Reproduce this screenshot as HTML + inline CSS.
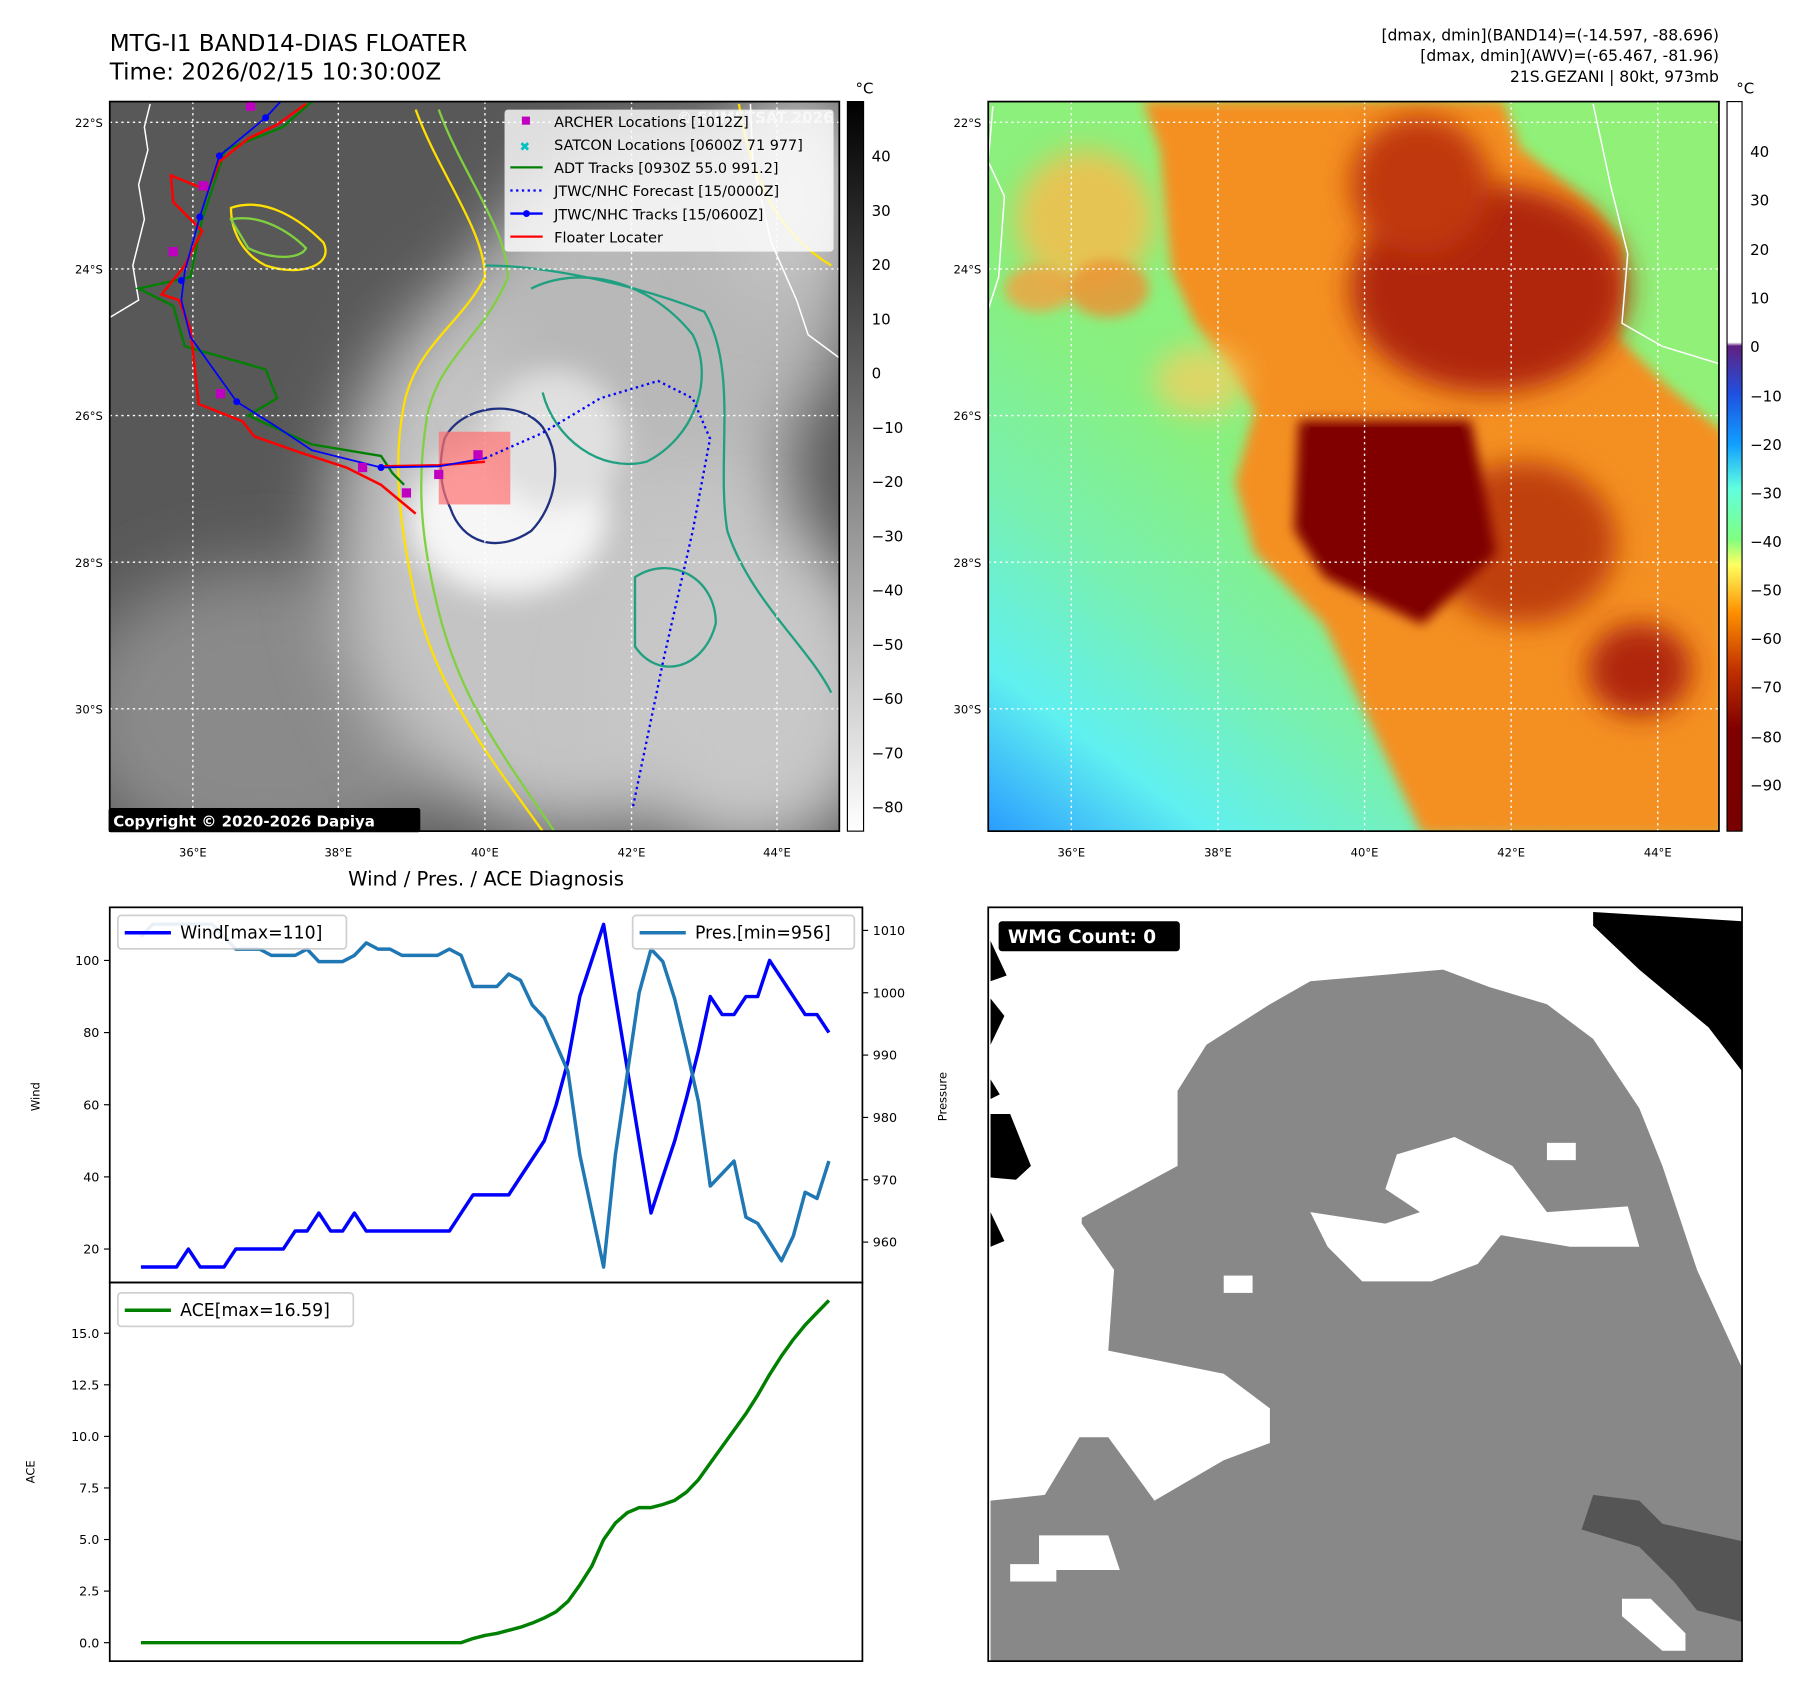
<!DOCTYPE html>
<html><head><meta charset="utf-8"><style>
html,body{margin:0;padding:0;background:#fff}
svg{display:block;font-family:"DejaVu Sans","Liberation Sans",sans-serif}
</style></head><body>
<svg id="root" width="1801" height="1690" viewBox="0 0 1560 1464" xmlns="http://www.w3.org/2000/svg">
<defs>
<filter id="b40" x="-50%" y="-50%" width="200%" height="200%"><feGaussianBlur stdDeviation="30"/></filter>
<filter id="b15" x="-50%" y="-50%" width="200%" height="200%"><feGaussianBlur stdDeviation="12"/></filter>
<filter id="b6" x="-50%" y="-50%" width="200%" height="200%"><feGaussianBlur stdDeviation="5"/></filter>
<clipPath id="cl"><rect x="95" y="88" width="632" height="632"/></clipPath>
<clipPath id="cr"><rect x="856" y="88" width="633" height="632"/></clipPath>
<linearGradient id="gcb" x1="0" y1="0" x2="0" y2="1"><stop offset="0" stop-color="#000"/><stop offset="1" stop-color="#fff"/></linearGradient>
<linearGradient id="ccb" x1="0" y1="0" x2="0" y2="1">
<stop offset="0" stop-color="#ffffff"/><stop offset="0.33" stop-color="#ffffff"/><stop offset="0.335" stop-color="#602080"/>
<stop offset="0.40" stop-color="#2050e0"/><stop offset="0.47" stop-color="#10a0ff"/><stop offset="0.53" stop-color="#60ffe0"/>
<stop offset="0.60" stop-color="#80ff80"/><stop offset="0.635" stop-color="#ffff60"/><stop offset="0.70" stop-color="#ff9000"/>
<stop offset="0.78" stop-color="#c03000"/><stop offset="0.86" stop-color="#800000"/><stop offset="1" stop-color="#780000"/></linearGradient>
<linearGradient id="rbg" x1="0" y1="1" x2="0.6" y2="0.2">
<stop offset="0" stop-color="#2a9cff"/><stop offset="0.18" stop-color="#60f0f0"/><stop offset="0.38" stop-color="#78f0b0"/><stop offset="0.6" stop-color="#88f080"/><stop offset="1" stop-color="#90f078"/></linearGradient>
</defs>

<text x="95" y="44" font-size="20">MTG-I1 BAND14-DIAS FLOATER</text>
<text x="95" y="69" font-size="20">Time: 2026/02/15 10:30:00Z</text>
<g font-size="13.5" text-anchor="end">
<text x="1489" y="35">[dmax, dmin](BAND14)=(-14.597, -88.696)</text>
<text x="1489" y="53">[dmax, dmin](AWV)=(-65.467, -81.96)</text>
<text x="1489" y="71">21S.GEZANI | 80kt, 973mb</text>
</g>

<!-- LEFT MAP -->
<g clip-path="url(#cl)">
<rect x="95" y="88" width="632" height="632" fill="#585858"/>
<ellipse cx="230" cy="620" rx="170" ry="130" fill="#8a8a8a" filter="url(#b40)"/>
<ellipse cx="490" cy="470" rx="200" ry="250" fill="#c4c4c4" filter="url(#b40)"/>
<ellipse cx="580" cy="260" rx="160" ry="140" fill="#b8b8b8" filter="url(#b40)"/>
<ellipse cx="650" cy="600" rx="120" ry="140" fill="#c8c8c8" filter="url(#b40)"/>
<ellipse cx="690" cy="160" rx="60" ry="90" fill="#c8c8c8" filter="url(#b40)"/>
<ellipse cx="440" cy="450" rx="85" ry="65" fill="#f6f6f6" filter="url(#b15)"/>
<ellipse cx="480" cy="380" rx="60" ry="60" fill="#e0e0e0" filter="url(#b15)"/>
<g fill="none" stroke-width="2">
<path d="M360,95 C380,150 420,200 420,240 C400,280 360,300 350,350 C340,400 345,450 360,520 C380,600 420,650 470,720" stroke="#ffe000"/>
<path d="M380,95 C400,150 440,200 440,240 C420,290 380,310 370,360 C360,420 365,470 380,530 C400,610 440,660 480,720" stroke="#80d040"/>
<path d="M420,230 C480,230 560,250 610,270 C640,320 620,400 630,460 C650,520 700,560 720,600" stroke="#20a080"/>
<path d="M385,380 C400,350 450,345 470,370 C490,400 480,440 460,460 C430,480 400,470 390,440 C380,420 380,400 385,380Z" stroke="#203080"/>
<path d="M200,180 C230,170 260,190 280,210 C290,230 260,240 230,230 C210,220 200,200 200,180Z" stroke="#ffe000"/>
<path d="M200,190 C225,185 250,200 265,215 C260,225 235,225 215,215Z" stroke="#80d040"/>
<path d="M460,250 C500,230 560,240 600,290 C620,330 600,380 560,400 C520,410 480,380 470,340" stroke="#20a080"/>
<path d="M640,90 C650,150 670,200 720,230" stroke="#ffe000"/>
<path d="M550,500 C580,480 620,500 620,540 C610,580 570,590 550,560Z" stroke="#20a080"/>
</g>
<g fill="none" stroke="#fff" stroke-width="1.3">
<path d="M130,90 L125,110 L128,130 L120,160 L125,190 L115,230 L120,260 L95,275"/>
<path d="M650,90 L652,140 L668,210 L690,260 L700,290 L727,310"/>
</g>
<g stroke="#fff" stroke-width="1.2" stroke-dasharray="2,3">
<line x1="95" y1="106" x2="727" y2="106"/><line x1="95" y1="233" x2="727" y2="233"/><line x1="95" y1="360" x2="727" y2="360"/><line x1="95" y1="487" x2="727" y2="487"/><line x1="95" y1="614" x2="727" y2="614"/>
<line x1="167" y1="88" x2="167" y2="720"/><line x1="293" y1="88" x2="293" y2="720"/><line x1="420" y1="88" x2="420" y2="720"/><line x1="547" y1="88" x2="547" y2="720"/><line x1="673" y1="88" x2="673" y2="720"/>
</g>
<rect x="380" y="374" width="62" height="63" fill="#ff7070" opacity="0.7"/>
<polyline fill="none" stroke="#008000" stroke-width="2" points="270,88 245,110 195,130 175,190 165,240 120,250 150,265 160,300 230,320 240,345 215,360 270,385 330,395 340,410 350,420"/>
<polyline fill="none" stroke="#ff0000" stroke-width="2.2" points="265,90 240,108 215,120 190,140 180,165 148,152 150,175 165,190 175,200 160,230 140,255 155,260 165,285 172,350 210,365 220,378 260,392 300,405 330,420 360,445"/>
<polyline fill="none" stroke="#ff0000" stroke-width="2.2" points="330,404 380,403 420,400"/>
<polyline fill="none" stroke="#0000ff" stroke-width="1.5" points="243,88 230,102 190,135 173,188 160,235 157,260 165,292 205,348 240,370 270,390 330,405 380,404 420,397"/>
<g fill="#0000ff"><circle cx="230" cy="102" r="3"/><circle cx="190" cy="135" r="3"/><circle cx="173" cy="188" r="3"/><circle cx="157" cy="243" r="3"/><circle cx="205" cy="348" r="3"/><circle cx="330" cy="405" r="3"/></g>
<polyline fill="none" stroke="#0000ff" stroke-width="2" stroke-dasharray="2,3" points="420,397 470,375 520,345 570,330 600,345 615,380 600,460 575,570 548,700"/>
<g fill="#c000c0">
<rect x="213" y="88" width="8" height="8"/><rect x="172" y="157" width="8" height="8"/><rect x="146" y="214" width="8" height="8"/><rect x="187" y="337" width="8" height="8"/><rect x="310" y="401" width="8" height="8"/><rect x="376" y="407" width="8" height="8"/><rect x="348" y="423" width="8" height="8"/><rect x="410" y="390" width="8" height="8"/></g>
</g>
<rect x="95" y="88" width="632" height="632" fill="none" stroke="#000" stroke-width="1.5"/>
<text x="722" y="106" font-size="13" fill="#ddd" font-weight="bold" text-anchor="end">© EUMETSAT 2026</text>
<g>
<rect x="437" y="95" width="285" height="123" fill="#fff" opacity="0.8" rx="3"/>
<g font-size="12.5">
<rect x="452" y="101" width="7" height="7" fill="#c000c0"/><text x="480" y="110">ARCHER Locations [1012Z]</text>
<text x="450" y="131" fill="#00c0c0" font-weight="bold" font-size="11">✖</text><text x="480" y="130">SATCON Locations [0600Z 71 977]</text>
<line x1="442" y1="145" x2="470" y2="145" stroke="#008000" stroke-width="2"/><text x="480" y="150">ADT Tracks [0930Z 55.0 991.2]</text>
<line x1="442" y1="165" x2="470" y2="165" stroke="#0000ff" stroke-width="2" stroke-dasharray="2,3"/><text x="480" y="170">JTWC/NHC Forecast [15/0000Z]</text>
<line x1="442" y1="185" x2="470" y2="185" stroke="#0000ff" stroke-width="2"/><circle cx="456" cy="185" r="3" fill="#0000ff"/><text x="480" y="190">JTWC/NHC Tracks [15/0600Z]</text>
<line x1="442" y1="205" x2="470" y2="205" stroke="#ff0000" stroke-width="2"/><text x="480" y="210">Floater Locater</text>
</g></g>
<rect x="94" y="700" width="270" height="21" fill="#000" rx="2"/>
<text x="98" y="716" font-size="13" font-weight="bold" fill="#fff">Copyright © 2020-2026 Dapiya</text>
<g font-size="10" text-anchor="end">
<text x="89" y="110">22°S</text><text x="89" y="237">24°S</text><text x="89" y="364">26°S</text><text x="89" y="491">28°S</text><text x="89" y="618">30°S</text></g>
<g font-size="10" text-anchor="middle"><text x="167" y="742">36°E</text><text x="293" y="742">38°E</text><text x="420" y="742">40°E</text><text x="547" y="742">42°E</text><text x="673" y="742">44°E</text></g>
<rect x="734" y="88" width="14" height="632" fill="url(#gcb)" stroke="#000"/>
<text x="741" y="81" font-size="13">°C</text>
<g font-size="13"><text x="755" y="140">40</text><text x="755" y="187">30</text><text x="755" y="234">20</text><text x="755" y="281">10</text><text x="755" y="328">0</text><text x="755" y="375">−10</text><text x="755" y="422">−20</text><text x="755" y="469">−30</text><text x="755" y="516">−40</text><text x="755" y="563">−50</text><text x="755" y="610">−60</text><text x="755" y="657">−70</text><text x="755" y="704">−80</text></g>

<!-- RIGHT MAP -->
<g clip-path="url(#cr)">
<rect x="856" y="88" width="633" height="632" fill="url(#rbg)"/>
<polygon points="1232,723 1147,541 1087,479 1070,418 1087,355 1061,314 1035,280 1015,235 1010,190 1005,130 990,87 1302,87 1317,128 1380,178 1406,211 1402,293 1445,335 1495,376 1495,725" fill="#f49020" filter="url(#b6)"/>
<ellipse cx="940" cy="190" rx="60" ry="60" fill="#f0c050" filter="url(#b15)" opacity="0.9"/>
<ellipse cx="900" cy="250" rx="30" ry="20" fill="#f4a040" filter="url(#b6)" opacity="0.8"/>
<ellipse cx="960" cy="250" rx="35" ry="25" fill="#f09030" filter="url(#b6)" opacity="0.8"/>
<ellipse cx="1040" cy="330" rx="40" ry="30" fill="#f0d060" filter="url(#b15)" opacity="0.8"/>
<ellipse cx="1290" cy="250" rx="120" ry="90" fill="#b02808" filter="url(#b15)"/>
<ellipse cx="1230" cy="160" rx="60" ry="60" fill="#c03808" filter="url(#b15)"/>
<ellipse cx="1420" cy="580" rx="45" ry="40" fill="#b02808" filter="url(#b15)"/>
<ellipse cx="1320" cy="470" rx="80" ry="70" fill="#c04010" filter="url(#b15)"/>
<polygon points="1125,364 1274,364 1296,479 1232,541 1147,500 1121,459" fill="#800000" filter="url(#b6)"/>
<polygon points="1135,370 1265,370 1285,470 1232,530 1155,495 1130,455" fill="#800000"/>
<path d="M860,92 L856,140 L870,170 L865,240 L856,268 M1380,90 L1395,160 L1410,220 L1405,280 L1440,300 L1489,315" fill="none" stroke="#fff" stroke-width="1.3"/>
<g stroke="#fff" stroke-width="1.2" stroke-dasharray="2,3">
<line x1="856" y1="106" x2="1489" y2="106"/><line x1="856" y1="233" x2="1489" y2="233"/><line x1="856" y1="360" x2="1489" y2="360"/><line x1="856" y1="487" x2="1489" y2="487"/><line x1="856" y1="614" x2="1489" y2="614"/>
<line x1="928" y1="88" x2="928" y2="720"/><line x1="1055" y1="88" x2="1055" y2="720"/><line x1="1182" y1="88" x2="1182" y2="720"/><line x1="1309" y1="88" x2="1309" y2="720"/><line x1="1436" y1="88" x2="1436" y2="720"/>
</g></g>
<rect x="856" y="88" width="633" height="632" fill="none" stroke="#000" stroke-width="1.5"/>
<g font-size="10" text-anchor="end"><text x="850" y="110">22°S</text><text x="850" y="237">24°S</text><text x="850" y="364">26°S</text><text x="850" y="491">28°S</text><text x="850" y="618">30°S</text></g>
<g font-size="10" text-anchor="middle"><text x="928" y="742">36°E</text><text x="1055" y="742">38°E</text><text x="1182" y="742">40°E</text><text x="1309" y="742">42°E</text><text x="1436" y="742">44°E</text></g>
<rect x="1496" y="88" width="13" height="632" fill="url(#ccb)" stroke="#000"/>
<text x="1504" y="81" font-size="13">°C</text>
<g font-size="13"><text x="1516" y="136">40</text><text x="1516" y="178">30</text><text x="1516" y="221">20</text><text x="1516" y="263">10</text><text x="1516" y="305">0</text><text x="1516" y="348">−10</text><text x="1516" y="390">−20</text><text x="1516" y="432">−30</text><text x="1516" y="474">−40</text><text x="1516" y="516">−50</text><text x="1516" y="558">−60</text><text x="1516" y="600">−70</text><text x="1516" y="643">−80</text><text x="1516" y="685">−90</text></g>

<!-- CHARTS -->
<text x="421" y="767" font-size="17" text-anchor="middle">Wind / Pres. / ACE Diagnosis</text>
<g id="charts"></g>
<rect x="95" y="786" width="652" height="325" fill="none" stroke="#000" stroke-width="1.5"/>
<rect x="95" y="1111" width="652" height="328" fill="none" stroke="#000" stroke-width="1.5"/>
<text transform="translate(34,950) rotate(-90)" font-size="10" text-anchor="middle">Wind</text>
<text transform="translate(820,950) rotate(-90)" font-size="10" text-anchor="middle">Pressure</text>
<text transform="translate(30,1275) rotate(-90)" font-size="10" text-anchor="middle">ACE</text>

<!-- WMG -->
<g>
<rect x="856" y="786" width="653" height="653" fill="#fff"/>
<polygon fill="#888" points="937,1055 1020,1010 1020,945 1045,905 1100,870 1135,850 1250,840 1290,855 1340,870 1380,900 1420,960 1440,1010 1470,1100 1509,1185 1509,1439 858,1439 858,1300 905,1295 935,1245 960,1245 1000,1300 1060,1265 1100,1250 1100,1220 1060,1190 1010,1180 960,1170 965,1100 937,1060"/>
<polygon fill="#fff" points="1135,1050 1200,1060 1230,1050 1200,1030 1210,1000 1260,985 1280,995 1310,1010 1340,1050 1410,1045 1420,1080 1360,1080 1300,1070 1280,1095 1240,1110 1180,1110 1150,1080"/>
<rect x="1060" y="1105" width="25" height="15" fill="#fff"/><rect x="1340" y="990" width="25" height="15" fill="#fff"/>
<rect x="1015" y="1200" width="40" height="30" fill="#fff"/>
<polygon fill="#fff" points="900,1330 960,1330 970,1360 915,1360 915,1370 875,1370 875,1355 900,1355"/>
<polygon fill="#fff" points="1405,1385 1430,1385 1460,1415 1460,1430 1440,1430 1405,1400"/>
<polygon fill="#555" points="1380,1295 1420,1300 1440,1320 1509,1335 1509,1405 1470,1395 1450,1370 1420,1340 1370,1325"/>
<polygon fill="#000" points="1380,790 1509,798 1509,928 1480,890 1420,840 1380,802"/>
<polygon fill="#000" points="858,965 875,965 893,1010 880,1022 858,1020"/>
<polygon fill="#000" points="858,1050 870,1075 858,1080"/><polygon fill="#000" points="858,815 872,845 858,850"/>
<polygon fill="#000" points="858,865 870,880 858,905"/><polygon fill="#000" points="858,935 866,948 858,952"/>
<rect x="865" y="798" width="157" height="26" rx="3" fill="#000"/>
<text x="873" y="817" font-size="16" font-weight="bold" fill="#fff">WMG Count: 0</text>
</g>
<rect x="856" y="786" width="653" height="653" fill="none" stroke="#000" stroke-width="1.5"/>

<script>
const windValues=[15,15,15,15,20,15,15,15,20,20,20,20,20,25,25,30,25,25,30,25,25,25,25,25,25,25,25,30,35,35,35,35,40,45,50,60,72,90,100,110,90,70,50,30,40,50,62,75,90,85,85,90,90,100,95,90,85,85,80];
const presValues=[1009,1011,1011,1011,1011,1011,1011,1009,1007,1007,1007,1006,1006,1006,1007,1005,1005,1005,1006,1008,1007,1007,1006,1006,1006,1006,1007,1006,1001,1001,1001,1003,1002,998,996,991.7,987.4,974,965,956,974,987,1000,1007,1005,999,991,982.5,969,971,973,964,963,960,957,961,968,967,973];
const aceValues=[0,0,0,0,0,0,0,0,0,0,0,0,0,0,0,0,0,0,0,0,0,0,0,0,0,0,0,0,0.2,0.35,0.45,0.6,0.75,0.95,1.2,1.5,2.0,2.8,3.7,5.0,5.8,6.3,6.55,6.55,6.7,6.9,7.3,7.9,8.7,9.5,10.3,11.1,12.0,13.0,13.9,14.7,15.4,16.0,16.59];
const windTicks=[20,40,60,80,100];
const presTicks=[960,970,980,990,1000,1010];
const aceTicks=[0,2.5,5,7.5,10,12.5,15];
const NS="http://www.w3.org/2000/svg";
const g=document.getElementById('charts');
const n=windValues.length;
const xS=i=>122+i*(596/(n-1));
const yW=v=>832-(v-100)*3.125;
const yP=v=>806+(1010-v)*5.4;
const yA=v=>1423-v*17.87;
function mk(tag,attrs){const e=document.createElementNS(NS,tag);for(const k in attrs)e.setAttribute(k,attrs[k]);g.appendChild(e);return e;}
function line(vals,fy,color,w,name){
 const p=mk('polyline',{points:vals.map((v,i)=>xS(i).toFixed(1)+','+fy(v).toFixed(1)).join(' '),fill:'none',stroke:color,'stroke-width':w,'stroke-linejoin':'round'});
 
 
}
line(windValues,yW,'#0000ff',3,'wind-line');
line(presValues,yP,'#1f77b4',3,'pressure-line');
line(aceValues,yA,'#008000',3,'ace-line');
function tick(x,y,label,side,fs){
 const t=mk('line',side==='l'?{x1:x-5,y1:y,x2:x,y2:y,stroke:'#000'}:{x1:x,y1:y,x2:x+5,y2:y,stroke:'#000'});
 
 
 const tx=mk('text',{x:side==='l'?x-9:x+9,y:y+4,'font-size':fs,'text-anchor':side==='l'?'end':'start'});
 tx.textContent=label;
 
 
}
windTicks.forEach(v=>tick(95,yW(v),String(v),'l',11));
presTicks.forEach(v=>tick(747,yP(v),String(v),'r',11));
aceTicks.forEach(v=>tick(95,yA(v),v.toFixed(1),'l',11));
function legend(x,y,w,color,label,name){
 const r=mk('rect',{x:x,y:y,width:w,height:29,rx:3,fill:'#fff',stroke:'#ccc','stroke-width':1.5,opacity:0.9});
 
 
 mk('line',{x1:x+6,y1:y+15,x2:x+46,y2:y+15,stroke:color,'stroke-width':3});
 const t=mk('text',{x:x+54,y:y+20,'font-size':15});
 t.textContent=label;
}
legend(102,793,198,'#0000ff','Wind[max=110]','wind-legend');
legend(548,793,192,'#1f77b4','Pres.[min=956]','pressure-legend');
legend(102,1120,204,'#008000','ACE[max=16.59]','ace-legend');
</script>
</svg>
</body></html>
